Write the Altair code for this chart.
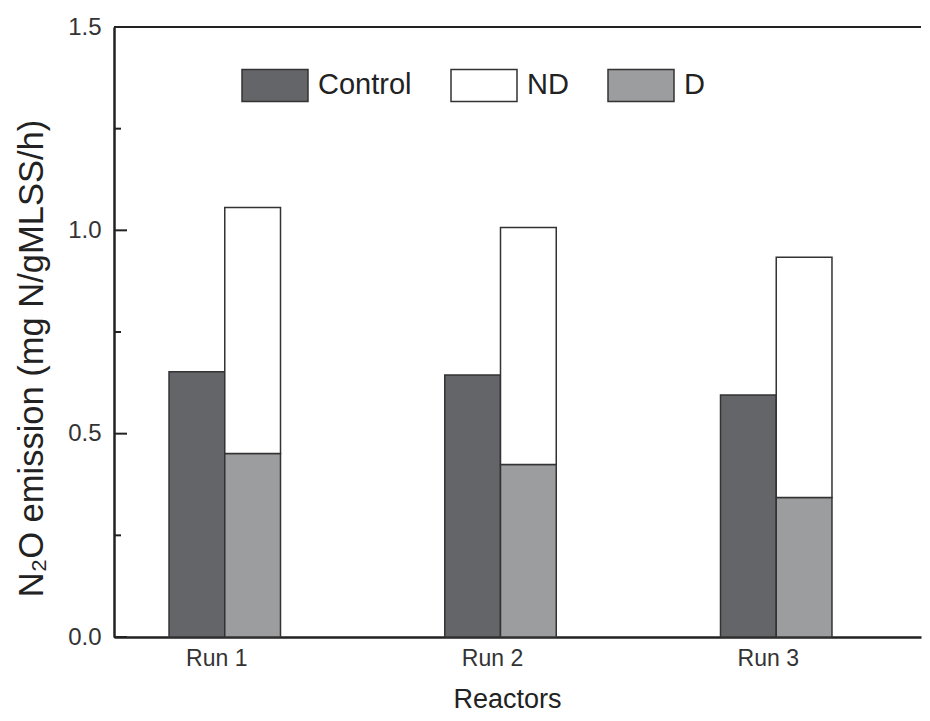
import altair as alt
import pandas as pd

runs = ["Run 1", "Run 2", "Run 3"]
control = [0.652, 0.644, 0.595]
d_vals = [0.451, 0.424, 0.343]
nd_vals = [0.605, 0.583, 0.591]
series = ["Control", "ND", "D"]
colors = ["#646568", "#ffffff", "#9c9d9f"]
major_ticks = [0.0, 0.5, 1.0, 1.5]
minor_ticks = [0.25, 0.75, 1.25]

rows = []
for r, c, dv, nv in zip(runs, control, d_vals, nd_vals):
    rows.append(dict(run=r, slot="a", series="Control", y0=0.0, y1=c))
    rows.append(dict(run=r, slot="b", series="D", y0=0.0, y1=dv))
    rows.append(dict(run=r, slot="b", series="ND", y0=dv, y1=dv + nv))
df = pd.DataFrame(rows)

W, H = 807, 610
INK = "#222222"
LBL = "#333333"
yscale = alt.Scale(domain=[0, 1.5], nice=False, zero=True)
Y_TITLE = "N₂O emission (mg N/gMLSS/h)"
y_axis = alt.Axis(
    values=major_ticks, format=".1f", ticks=False, grid=False,
    labelPadding=13, labelFontSize=24, labelColor=LBL,
    domainWidth=2.5, domainColor=INK,
    title=Y_TITLE, titleFontSize=34.5,
    titleFontWeight="normal", titleColor=INK, titleAngle=270,
    titleX=-72, titleY=331, titleAlign="center", titleBaseline="alphabetic",
)

bars = alt.Chart(df).mark_bar(stroke="#333333", strokeWidth=1.5).encode(
    x=alt.X(
        "run:N", sort=runs,
        scale=alt.Scale(paddingInner=0.5957, paddingOuter=0.2612, align=0.382),
        axis=alt.Axis(
            title="Reactors", ticks=False, labelAngle=0, labelFontSize=23,
            labelPadding=10, labelOffset=-8, domainWidth=2.5, domainColor=INK,
            labelColor=LBL,
            titleFontSize=27, titleX=393, titleY=70, titleBaseline="alphabetic",
            titleFontWeight="normal", titleColor=INK,
        ),
    ),
    xOffset=alt.XOffset("slot:N", scale=alt.Scale(paddingInner=0, paddingOuter=0)),
    y=alt.Y("y1:Q", scale=yscale, axis=y_axis, title=Y_TITLE),
    y2="y0:Q",
    fill=alt.Fill(
        "series:N",
        scale=alt.Scale(domain=series, range=colors),
        legend=alt.Legend(
            orient="none", legendX=127, legendY=24, direction="horizontal",
            title=None, symbolType="M-1,-0.485H1V0.485H-1Z", symbolSize=4356,
            symbolStrokeColor="#333333", symbolStrokeWidth=1.5, symbolOpacity=1,
            labelFontSize=29, labelOffset=9, columnPadding=36, padding=0,
            labelColor=INK,
        ),
    ),
)

major_df = pd.DataFrame({"v": major_ticks})
minor_df = pd.DataFrame({"v": minor_ticks})

major = alt.Chart(major_df).mark_rule(color=INK, strokeWidth=2).encode(
    y=alt.Y("v:Q", scale=yscale, axis=y_axis, title=Y_TITLE), x=alt.value(0), x2=alt.value(13)
)
minor = alt.Chart(minor_df).mark_rule(color=INK, strokeWidth=2).encode(
    y=alt.Y("v:Q", scale=yscale, axis=y_axis, title=Y_TITLE), x=alt.value(0), x2=alt.value(7)
)
top = alt.Chart(major_df).mark_rule(color=INK, strokeWidth=2).encode(
    y=alt.value(0), x=alt.value(0), x2=alt.value(W)
)

chart = alt.layer(bars, major, minor, top).properties(
    width=W, height=H,
    autosize=alt.AutoSizeParams(type="none"),
    padding={"left": 106, "top": 19, "right": 1, "bottom": 76},
).configure(font="Liberation Sans").configure_view(stroke=None)

chart.save("out.html", embed_options={"renderer": "svg", "actions": False})
